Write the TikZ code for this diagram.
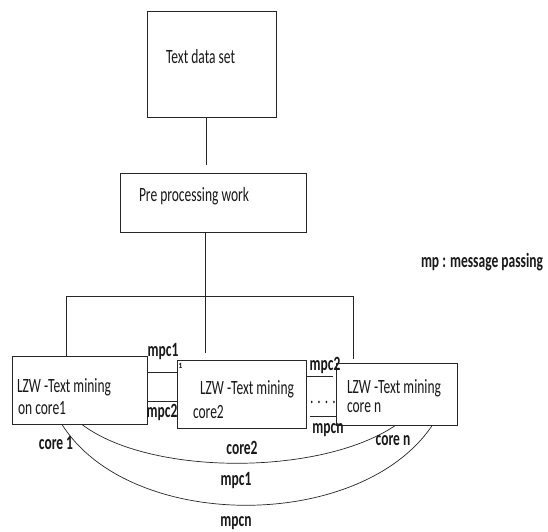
\documentclass[tikz,border=0pt]{standalone}
\usepackage{fontspec}
\setmainfont{Carlito}
\usepackage{graphicx}
\newcommand{\talltext}[1]{\scalebox{1}[1.5]{#1}}
\tikzset{
  boxst/.style={draw=black!85, line width=0.9pt, inner sep=0pt, outer sep=0pt, fill=white},
  txt/.style={inner sep=0pt, outer sep=0pt, anchor=west, text=black!90, font=\fontsize{13.5}{16}\selectfont},
  lbl/.style={inner sep=0pt, outer sep=0pt, text=black!90, font=\fontsize{13.5}{16}\selectfont\bfseries},
  conn/.style={draw=black!85, line width=0.8pt},
}
\begin{document}
\begin{tikzpicture}[x=1pt,y=-1pt]
\useasboundingbox[fill=white] (0,0) rectangle (548,531);
% boxes
\node[boxst, minimum width=128.6pt, minimum height=106.7pt] (tds) at (212,64.3) {};
\node[boxst, minimum width=186pt, minimum height=59.7pt] (pre) at (213,202.8) {};
\node[boxst, minimum width=134.3pt, minimum height=68.5pt] (b1) at (79.85,390.25) {};
\node[boxst, minimum width=129pt, minimum height=68.3pt] (b2) at (241.5,394.15) {};
\node[boxst, minimum width=121pt, minimum height=62.7pt] (bn) at (396.5,394.35) {};
% box texts
\node[txt] (tdst) at (166,57) {\talltext{Text data set}};
\node[txt] (pret) at (139,196) {\talltext{Pre processing work}};
\node[txt] (b1ta) at (17,387) {\talltext{LZW -Text mining}};
\node[txt] (b1tb) at (18,408) {\talltext{on core1}};
\node[txt] (b2ta) at (200,389) {\talltext{LZW -Text mining}};
\node[txt] (b2tb) at (193,412) {\talltext{core2}};
\node[txt] (bnta) at (347,388) {\talltext{LZW -Text mining}};
\node[txt] (bntb) at (347,408) {\talltext{core n}};
% legend
\node[lbl, anchor=west] (legend) at (421,262) {\talltext{mp : message passing}};
% tree connectors
\coordinate (c1) at (206,165);
\coordinate (busL) at (66.7,296);
\coordinate (busR) at (353,296);
\coordinate (midend) at (205,353);
\coordinate (rend) at (353,359);
\draw[conn] (tds.south -| c1) -- (c1);
\draw[conn] (pre.south -| midend) -- (midend);
\draw[conn] (busL) -- (busR);
\draw[conn] (busL) -- (b1.north -| busL);
\draw[conn] (busR) -- (rend);
% lines between boxes
\draw[conn] (b1.east |- 0,372) -- (b2.west |- 0,372);
\draw[conn] (b1.east |- 0,401) -- (b2.west |- 0,401);
\coordinate (m2a) at (307,376);
\coordinate (m2b) at (333,376);
\draw[conn] (m2a) -- (m2b);
\coordinate (mna) at (310,416.7);
\draw[conn] (mna) -- (bn.west |- mna);
\node[txt] (dots) at (310,402) {\talltext{. . . .}};
% labels between boxes
\node[lbl] (lmpc1) at (163,352) {\talltext{mpc1}};
\node[lbl, font=\fontsize{8}{9}\selectfont\bfseries] (lone) at (180.5,365.5) {1};
\node[lbl] (lmpc2) at (162,412) {\talltext{mpc2}};
\node[lbl] (lmpc2b) at (325,365) {\talltext{mpc2}};
\node[lbl] (lmpcn) at (328,430) {\talltext{mpcn}};
% curves
\draw[conn, line width=0.7pt] ([xshift=69.3pt]b1.south west) .. controls (150,476) and (320,476) .. ([xshift=59pt]bn.south west);
\draw[conn, line width=0.7pt] ([xshift=49.3pt]b1.south west) .. controls (130,532) and (360,532) .. ([xshift=96pt]bn.south west);
% bottom labels
\node[lbl] (lc1) at (56,443) {\talltext{core 1}};
\node[lbl] (lc2) at (242,448) {\talltext{core2}};
\node[lbl] (lcn) at (393,441) {\talltext{core n}};
\node[lbl] (lbm1) at (236,481) {\talltext{mpc1}};
\node[lbl] (lbmn) at (236,523) {\talltext{mpcn}};
\end{tikzpicture}
\end{document}
